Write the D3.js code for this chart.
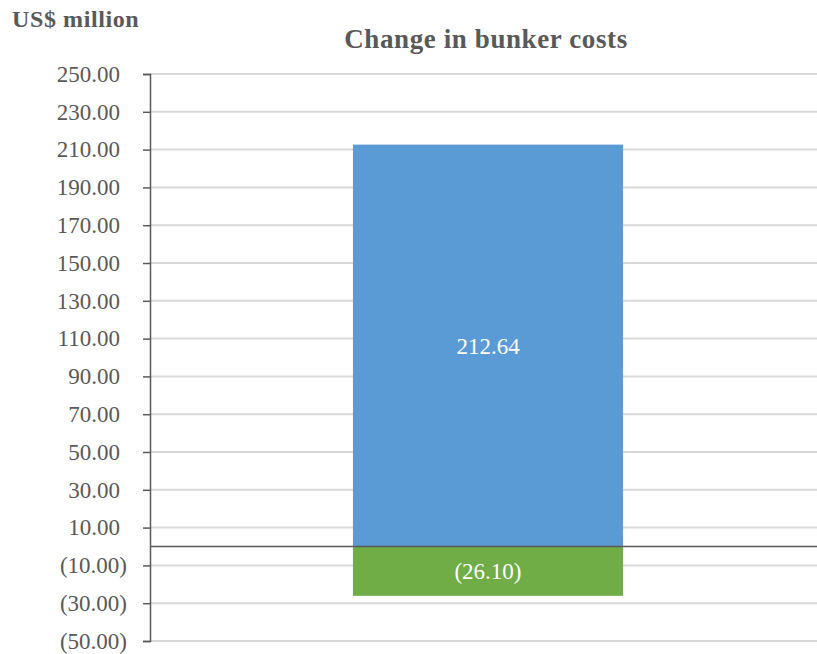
<!DOCTYPE html>
<html>
<head>
<meta charset="utf-8">
<script src="https://cdn.jsdelivr.net/npm/d3@7"></script>
<style>
body { margin: 0; background: #fff; }
svg text { font-family: 'Liberation Serif', serif; }
</style>
</head>
<body>
<svg id="chart" width="817" height="654"></svg>
<script>
// data
var categories = ["Bunker costs"];
var positiveValues = [212.64];
var negativeValues = [-26.10];
var tickValues = [250, 230, 210, 190, 170, 150, 130, 110, 90, 70, 50, 30, 10, -10, -30, -50];
var seriesColors = ["#5B9BD5", "#70AD47"];

function fmt(v) {
	var s = d3.format(",.2f")(Math.abs(v));
	return v < 0 ? "(" + s + ")" : s;
}

var left = 150, right = 817;
var svg = d3.select("#chart");

var y = d3.scaleLinear().domain([-50, 250]).range([641, 74]);
var x = d3.scaleBand().domain(categories).range([left, 826]).paddingInner(0.429).paddingOuter(0.429);

// gridlines
svg.selectAll(".grid").data(tickValues).enter().append("line")
	.attr("x1", left).attr("x2", right)
	.attr("y1", function(d) { return y(d); }).attr("y2", function(d) { return y(d); })
	.attr("stroke", "#d9d9d9").attr("stroke-width", 2);

// bars
var series = [positiveValues, negativeValues];
series.forEach(function(vals, si) {
	svg.selectAll(".bar" + si).data(vals).enter().append("rect")
		.attr("x", function(d, i) { return x(categories[i]); })
		.attr("width", x.bandwidth())
		.attr("y", function(d) { return y(Math.max(0, d)); })
		.attr("height", function(d) { return Math.abs(y(d) - y(0)); })
		.attr("fill", seriesColors[si]);
	svg.selectAll(".lab" + si).data(vals).enter().append("text")
		.attr("x", function(d, i) { return x(categories[i]) + x.bandwidth() / 2; })
		.attr("y", function(d) { return (y(d) + y(0)) / 2; })
		.attr("dy", "0.35em")
		.attr("text-anchor", "middle")
		.attr("fill", "#fff")
		.attr("font-size", 23)
		.text(fmt);
});

// zero line
svg.append("line")
	.attr("x1", left).attr("x2", right)
	.attr("y1", y(0)).attr("y2", y(0))
	.attr("stroke", "#595959").attr("stroke-width", 1.5);

// y axis
var axis = d3.axisLeft(y).tickValues(tickValues).tickSize(7).tickPadding(16).tickFormat(fmt);
var ag = svg.append("g").attr("transform", "translate(" + left + ",0)").call(axis);
ag.attr("font-family", null).attr("font-size", 23);
ag.select(".domain").attr("stroke", "#595959").attr("stroke-width", 1.5);
ag.selectAll(".tick line").attr("stroke", "#595959").attr("stroke-width", 1.5);
ag.selectAll(".tick text").attr("fill", "#595959")
	.attr("dx", function(d) { return d < 0 ? 0 : -7; });

// titles
svg.append("text").attr("x", 12).attr("y", 27)
	.attr("font-size", 24).attr("font-weight", "bold").attr("fill", "#595959")
	.attr("letter-spacing", 0.6)
	.text("US$ million");
svg.append("text").attr("x", 486).attr("y", 48).attr("text-anchor", "middle")
	.attr("font-size", 27).attr("font-weight", "bold").attr("fill", "#595959")
	.attr("letter-spacing", 0.6)
	.text("Change in bunker costs");
</script>
</body>
</html>
